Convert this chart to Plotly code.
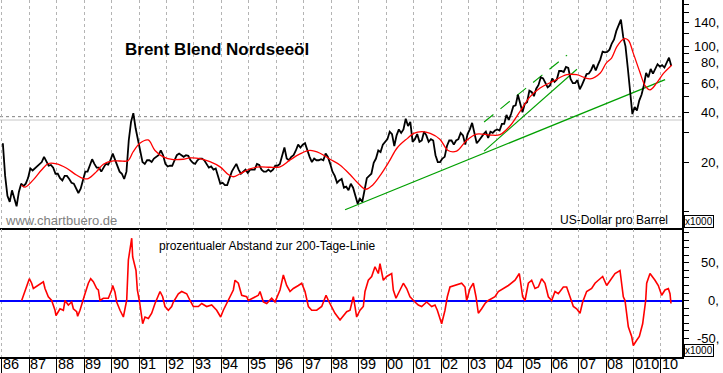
import math
import plotly.graph_objects as go

# ---------------- data ----------------
first_year = 1986
# monthly Brent prices (USD/barrel), Jan 1986 .. May 2010
price = [
    26.0, 16.5, 12.5, 11.5, 13.5, 12.0, 10.8, 13.2, 14.8, 14.3, 14.8, 16.0,   # 1986
    18.3, 17.8, 18.3, 19.0, 19.5, 20.0, 21.5, 20.0, 19.0, 19.2, 18.5, 17.0,   # 1987
    17.0, 16.0, 15.5, 16.5, 16.5, 15.8, 15.0, 14.8, 14.0, 13.0, 13.8, 15.8,   # 1988
    17.5, 17.5, 19.2, 20.8, 19.5, 18.5, 18.5, 17.5, 18.5, 19.5, 19.3, 20.5,   # 1989
    22.5, 20.5, 19.0, 17.5, 17.0, 15.8, 17.5, 27.0, 35.0, 39.5, 32.0, 27.0,   # 1990
    23.0, 20.0, 19.5, 20.5, 20.5, 20.0, 21.0, 21.5, 22.0, 23.5, 22.0, 19.5,   # 1991
    18.8, 19.0, 19.0, 20.5, 22.0, 22.5, 22.0, 21.5, 22.0, 21.8, 20.5, 19.8,   # 1992
    19.5, 20.5, 21.0, 21.0, 20.5, 19.5, 18.5, 18.8, 18.0, 18.3, 16.5, 14.8,   # 1993
    15.0, 14.5, 14.5, 16.0, 17.5, 18.5, 19.5, 18.0, 17.0, 17.5, 18.0, 17.2,   # 1994
    18.0, 18.0, 18.0, 19.5, 19.2, 18.0, 17.5, 17.5, 18.0, 17.5, 18.0, 19.0,   # 1995
    19.0, 19.5, 21.5, 24.5, 21.0, 20.5, 21.5, 22.0, 23.5, 25.5, 24.5, 25.5,   # 1996
    26.0, 23.5, 21.5, 20.0, 21.0, 20.5, 20.5, 20.8, 20.5, 22.5, 21.5, 19.5,   # 1997
    17.5, 16.5, 15.0, 15.5, 15.8, 14.0, 14.2, 13.5, 14.8, 14.0, 12.5, 11.2,   # 1998
    12.0, 11.5, 13.5, 16.0, 16.5, 17.0, 19.8, 21.0, 23.5, 23.0, 25.5, 26.5,   # 1999
    27.5, 30.5, 29.5, 25.0, 29.0, 31.5, 30.0, 31.5, 36.5, 33.0, 35.0, 26.5,   # 2000
    27.5, 29.5, 26.5, 27.0, 30.5, 29.0, 26.5, 27.5, 27.0, 22.0, 20.0, 20.0,   # 2001
    21.0, 21.5, 25.0, 27.0, 27.0, 25.5, 27.0, 27.5, 30.0, 29.0, 25.5, 29.5,   # 2002
    31.5, 34.5, 30.5, 26.0, 27.0, 28.5, 29.5, 30.5, 28.0, 30.5, 30.0, 31.0,   # 2003
    31.5, 31.0, 34.0, 34.0, 38.5, 36.0, 39.0, 43.5, 44.0, 51.0, 45.0, 40.0,   # 2004
    45.0, 46.0, 54.0, 53.0, 50.0, 55.5, 58.5, 65.0, 64.0, 60.0, 56.5, 58.0,   # 2005
    64.0, 61.0, 63.0, 71.0, 71.0, 70.0, 75.0, 74.0, 63.5, 60.0, 60.0, 62.5,   # 2006
    55.0, 58.5, 63.0, 68.0, 68.5, 72.0, 77.5, 71.5, 77.5, 83.5, 93.0, 92.0,   # 2007
    92.5, 95.5, 104.0, 110.0, 124.0, 134.0, 145.0, 114.0, 100.0, 74.0, 54.0, 39.0,  # 2008
    43.0, 41.0, 47.0, 51.0, 58.0, 69.0, 65.0, 73.0, 68.5, 74.0, 78.0, 75.5,   # 2009
    77.0, 74.5, 79.5, 85.5, 76.0,                                             # 2010
]
price_dates = [first_year + (i + 0.5) / 12 for i in range(len(price))]

# 200-day line
ma_dates = [1986.72, 1986.85, 1987.15, 1987.45, 1987.70, 1988.00, 1988.35, 1988.72, 1988.97,
            1989.15, 1989.45, 1989.70, 1990.06, 1990.30, 1990.60, 1990.78, 1991.03, 1991.33,
            1991.58, 1991.88, 1992.25, 1992.60, 1992.85, 1993.22, 1993.58, 1993.95, 1994.25,
            1994.43, 1994.68, 1995.04, 1995.40, 1995.77, 1996.13, 1996.50, 1996.86, 1997.22,
            1997.59, 1997.95, 1998.31, 1998.68, 1998.92, 1999.25, 1999.50, 1999.80, 2000.10,
            2000.40, 2000.77, 2001.00, 2001.30, 2001.60, 2001.95, 2002.25, 2002.56, 2002.92,
            2003.29, 2003.78, 2004.14, 2004.50, 2004.87, 2005.23, 2005.60, 2006.08, 2006.57,
            2006.93, 2007.42, 2007.79, 2008.00, 2008.20, 2008.40, 2008.65, 2008.81, 2008.99,
            2009.23, 2009.42, 2009.60, 2009.84, 2010.09, 2010.39]
ma_values = [14.5, 14.1, 15.6, 17.9, 19.6, 19.5, 18.4, 16.7, 15.9,
             15.9, 17.5, 19.4, 20.3, 20.3, 20.4, 23.0, 26.0, 27.2,
             23.5, 21.5, 20.7, 20.8, 21.2, 21.0, 20.1, 18.7, 16.8,
             16.3, 17.0, 18.2, 18.7, 18.6, 18.7, 20.6, 22.4, 23.5,
             22.6, 20.8, 19.2, 16.8, 15.2, 13.7, 14.5, 16.8, 20.1,
             24.4, 27.8, 29.8, 30.5, 29.8, 27.5, 23.5, 23.3, 27.0,
             29.5, 29.1, 29.3, 33.0, 40.5, 49.5, 56.0, 61.6, 67.4,
             67.4, 63.6, 69.1, 79.0, 85.0, 100.0, 111.0, 109.0, 91.0,
             70.0, 58.0, 54.6, 59.9, 68.6, 77.0]

# percentage distance to the 200-day line (lower panel)
dev_dates = [1986.727, 1986.848, 1987.006, 1987.091, 1987.152, 1987.516, 1987.576, 1987.697,
             1987.819, 1987.940, 1987.977, 1988.123, 1988.244, 1988.305, 1988.426, 1988.547,
             1988.608, 1988.729, 1988.765, 1988.850, 1988.947, 1989.032, 1989.154, 1989.239,
             1989.335, 1989.457, 1989.518, 1989.578, 1989.700, 1989.882, 1990.003, 1990.040,
             1990.125, 1990.185, 1990.307, 1990.429, 1990.526, 1990.550, 1990.611, 1990.672,
             1990.733, 1990.768, 1990.828, 1990.889, 1990.938, 1991.010, 1991.132, 1991.217,
             1991.339, 1991.460, 1991.581, 1991.764, 1991.859, 1991.944, 1992.066, 1992.187,
             1992.248, 1992.430, 1992.552, 1992.734, 1992.855, 1992.977, 1993.159, 1993.280,
             1993.462, 1993.644, 1993.826, 1993.971, 1994.068, 1994.190, 1994.432, 1994.493,
             1994.614, 1994.736, 1994.918, 1994.978, 1995.160, 1995.343, 1995.403, 1995.524,
             1995.646, 1995.828, 1995.949, 1996.131, 1996.253, 1996.374, 1996.496, 1996.617,
             1996.800, 1996.921, 1997.042, 1997.164, 1997.285, 1997.467, 1997.649, 1997.807,
             1997.892, 1998.013, 1998.133, 1998.316, 1998.559, 1998.680, 1998.801, 1998.862,
             1998.922, 1999.044, 1999.164, 1999.225, 1999.346, 1999.468, 1999.589, 1999.710,
             1999.771, 1999.892, 2000.014, 2000.196, 2000.256, 2000.354, 2000.499, 2000.621,
             2000.742, 2000.863, 2001.045, 2001.166, 2001.288, 2001.470, 2001.652, 2001.773,
             2001.858, 2001.955, 2002.016, 2002.137, 2002.222, 2002.319, 2002.501, 2002.744,
             2002.865, 2002.926, 2003.047, 2003.169, 2003.266, 2003.351, 2003.472, 2003.594,
             2003.715, 2003.836, 2003.957, 2004.079, 2004.261, 2004.443, 2004.686, 2004.843,
             2004.965, 2005.050, 2005.171, 2005.292, 2005.414, 2005.535, 2005.656, 2005.778,
             2005.899, 2006.020, 2006.142, 2006.263, 2006.445, 2006.566, 2006.688, 2006.809,
             2006.930, 2007.052, 2007.149, 2007.294, 2007.476, 2007.598, 2007.719, 2007.877,
             2008.023, 2008.144, 2008.326, 2008.508, 2008.629, 2008.690, 2008.751, 2008.811,
             2008.933, 2008.993, 2009.115, 2009.212, 2009.333, 2009.394, 2009.443, 2009.479,
             2009.600, 2009.782, 2009.903, 2010.025, 2010.146, 2010.268, 2010.328, 2010.364]
dev_values = [0, 14, 29, 23, 16, 25, 16, 5,
              0, -13, -20, -11, -13, 0, -6, -2,
              -11, -15, -21, -13, 0, 9, 23, 29,
              25, 16, 14, 0, 3, 3, 14, 20,
              11, -2, -13, -22, -4, 0, 54, 67,
              83, 58, 49, 40, 14, 0, -31, -22,
              -24, -17, -4, 12, 5, -8, -13, -8,
              -2, 9, 12, 9, 0, -8, -8, -4,
              -8, -6, -13, -22, -13, -4, 14, 27,
              23, 7, 5, 0, 3, 7, 12, -2,
              -4, 3, -2, 14, 34, 20, 12, 16,
              20, 23, 12, -8, -13, -13, -8, 7,
              0, -8, -17, -26, -15, -13, 5, -8,
              -22, -13, -8, 12, 27, 32, 45, 36,
              49, 27, 32, 36, 14, 3, 14, 23,
              16, 5, -2, -6, -8, -2, -8, -6,
              -13, -26, -31, -13, 5, 18, 20, 23,
              18, 0, 16, 23, 5, -17, -11, -4,
              0, 3, 5, 12, 16, 20, 27, 36,
              5, 0, 23, 27, 16, 18, 29, 23,
              5, 0, 12, 9, 18, 18, 5, -8,
              -11, -17, -2, 12, 16, 23, 27, 32,
              20, 27, 36, 40, 5, 0, -17, -35,
              -48, -60, -53, -48, -31, -17, 0, 23,
              36, 27, 20, 7, 14, 16, 9, -4]

# green trend lines (start / end points)
trend_long_x = [1998.50, 2010.15]
trend_long_y = [10.3, 63.0]
channel_low_x = [2003.56, 2006.94]
channel_low_y = [23.3, 72.7]
channel_high_x = [2003.56, 2006.58]
channel_high_y = [34.9, 88.6]

# horizontal reference levels (grey lines)
ref_dotted = 37.6
ref_solid = 35.9

year_ticks = list(range(1986, 2011))
year_labels = ["86", "87", "88", "89", "90", "91", "92", "93", "94", "95", "96", "97", "98",
               "99", "00", "01", "02", "03", "04", "05", "06", "07", "08", "010", "10"]
price_ticks = [10, 20, 30, 40, 50, 60, 70, 80, 90, 100, 120, 140, 160, 180]
price_labels = {20: "20,", 40: "40,", 60: "60,", 80: "80,", 100: "100,", 140: "140,"}
dev_ticks = list(range(-70, 100, 10))
dev_labels = {50: "50,", 0: "0,", -50: "-50,"}

# ---------------- figure ----------------
W, H = 723, 373
L, R, T, B = 0, 41, 0, 16
plot_h = H - T - B
x_range = [1985.938, 2010.765]
top_domain = [(plot_h - 228) / plot_h, 1.0]
bot_domain = [0.0, (plot_h - 229) / plot_h]

fig = go.Figure()

fig.add_trace(go.Scatter(x=trend_long_x, y=trend_long_y, mode="lines",
                         line=dict(color="#00a000", width=1.3), xaxis="x", yaxis="y"))
fig.add_trace(go.Scatter(x=channel_low_x, y=channel_low_y, mode="lines",
                         line=dict(color="#00a000", width=1.1), xaxis="x", yaxis="y"))
fig.add_trace(go.Scatter(x=channel_high_x, y=channel_high_y, mode="lines",
                         line=dict(color="#00a000", width=1.1, dash="12px,9px"), xaxis="x", yaxis="y"))
fig.add_trace(go.Scatter(x=price_dates, y=price, mode="lines",
                         line=dict(color="#000000", width=1.8), xaxis="x", yaxis="y"))
fig.add_trace(go.Scatter(x=ma_dates, y=ma_values, mode="lines", line_shape="spline",
                         line=dict(color="#ff0000", width=1.3), xaxis="x", yaxis="y"))
fig.add_trace(go.Scatter(x=dev_dates, y=dev_values, mode="lines",
                         line=dict(color="#ff0000", width=1.6), xaxis="x2", yaxis="y2"))

grid = dict(showgrid=True, gridcolor="#b4b4b4", griddash="3px,3px", gridwidth=1,
            tick0=1986, dtick=1)

fig.update_layout(
    width=W, height=H, margin=dict(l=L, r=R, t=T, b=B, pad=0),
    paper_bgcolor="white", plot_bgcolor="white", showlegend=False,
    xaxis=dict(domain=[0, 1], anchor="y", range=x_range, showticklabels=False,
               ticks="", showline=True, linecolor="black", linewidth=2, zeroline=False, **grid),
    yaxis=dict(domain=top_domain, anchor="x", type="log",
               range=[math.log10(7.99), math.log10(190.6)], side="right",
               showline=True, linecolor="black", linewidth=1.5, ticks="outside", ticklen=5,
               tickcolor="black", tickvals=price_ticks, showticklabels=False,
               showgrid=False, zeroline=False),
    xaxis2=dict(domain=[0, 1], anchor="y2", range=x_range, showticklabels=False,
                ticks="outside", ticklen=16, tickcolor="black", tickwidth=1,
                tickvals=year_ticks, showline=True, linecolor="black", linewidth=1.5,
                zeroline=False, showgrid=True, gridcolor="#b4b4b4", griddash="3px,3px"),
    yaxis2=dict(domain=bot_domain, anchor="x2", range=[-75.3, 95.3], side="right",
                showline=True, linecolor="black", linewidth=1.5, ticks="outside", ticklen=5,
                tickcolor="black", tickvals=dev_ticks, showticklabels=False,
                showgrid=False, zeroline=True, zerolinecolor="#0000ff", zerolinewidth=1.5),
)

# grey reference lines across the upper panel
fig.add_shape(type="line", xref="paper", x0=0, x1=1, yref="y", y0=ref_dotted, y1=ref_dotted,
              line=dict(color="#808080", width=1, dash="dot"), layer="below")
fig.add_shape(type="line", xref="paper", x0=0, x1=1, yref="y", y0=ref_solid, y1=ref_solid,
              line=dict(color="#c8c8c8", width=1), layer="below")

ann = []
font_main = "Liberation Sans, Arial, sans-serif"
ann.append(dict(text="<b>Brent Blend Nordseeöl</b>", xref="paper", yref="paper",
                x=123 / 682, y=(plot_h - 50) / plot_h, xanchor="left", yanchor="middle",
                showarrow=False, font=dict(family=font_main, size=17, color="black")))
ann.append(dict(text="www.chartbuero.de", xref="paper", yref="paper",
                x=3 / 682, y=(plot_h - 220) / plot_h, xanchor="left", yanchor="middle",
                showarrow=False, font=dict(family=font_main, size=13, color="#808080")))
ann.append(dict(text="US-Dollar pro Barrel", xref="paper", yref="paper",
                x=670 / 682, y=(plot_h - 220) / plot_h, xanchor="right", yanchor="middle",
                showarrow=False, font=dict(family=font_main, size=12, color="black")))
ann.append(dict(text="prozentualer Abstand zur 200-Tage-Linie", xref="paper", yref="paper",
                x=157 / 682, y=(plot_h - 246) / plot_h, xanchor="left", yanchor="middle",
                showarrow=False, font=dict(family=font_main, size=12, color="black")))

for v, t in price_labels.items():
    ann.append(dict(text=t, xref="paper", yref="y", x=721 / 682, y=math.log10(v),
                    xanchor="right", yanchor="middle", showarrow=False,
                    font=dict(family=font_main, size=13, color="black")))
for v, t in dev_labels.items():
    ann.append(dict(text=t, xref="paper", yref="y2", x=721 / 682, y=v,
                    xanchor="right", yanchor="middle", showarrow=False,
                    font=dict(family=font_main, size=13, color="black")))

for yr, t in zip(year_ticks, year_labels):
    ann.append(dict(text=t, xref="x2", yref="paper", x=yr, y=0, xanchor="left",
                    yanchor="top", xshift=0, yshift=2, borderpad=0, showarrow=False,
                    font=dict(family="Liberation Sans Narrow, Arial Narrow, Liberation Sans",
                              size=14.5, color="black")))

for ytop in [(plot_h - 215) / plot_h, (plot_h - 344) / plot_h]:
    ann.append(dict(text="x1000", xref="paper", yref="paper", x=684 / 682, y=ytop,
                    xanchor="left", yanchor="top", showarrow=False, bgcolor="white",
                    bordercolor="black", borderwidth=1, borderpad=0,
                    font=dict(family=font_main, size=10, color="black")))

fig.update_layout(annotations=ann)
fig.write_html("out.html", config={"displayModeBar": False},
               post_script="document.body.style.margin='0px';document.body.style.overflow='hidden';")
